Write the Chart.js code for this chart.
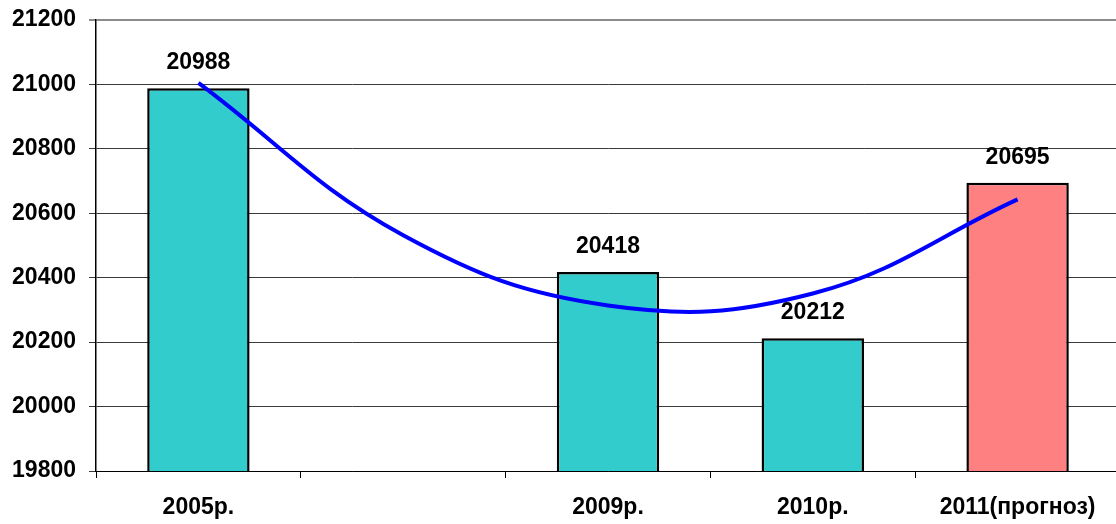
<!DOCTYPE html>
<html>
<head>
<meta charset="utf-8">
<script src="https://cdn.jsdelivr.net/npm/chart.js@4"></script>
<style>
  html, body { margin: 0; padding: 0; background: #fff; overflow: hidden; }
  #wrap { width: 1116px; height: 524px; overflow: hidden; }
</style>
</head>
<body>
<div id="wrap"><canvas id="c" width="1120" height="524"></canvas></div>
<script>
const categories = ['2005р.', '', '2009р.', '2010р.', '2011(прогноз)'];
const values = [20988, null, 20418, 20212, 20695];
const trendValues = [21005, 20532, 20314, 20351, 20643];
const barColors = ['#33CCCC', '#33CCCC', '#33CCCC', '#33CCCC', '#FF8080'];
const yMin = 19800, yMax = 21200, yStep = 200;

const FONT = "'Liberation Sans', Arial, sans-serif";

const valueLabels = {
  id: 'valueLabels',
  afterDatasetsDraw(chart) {
    const ctx = chart.ctx;
    const meta = chart.getDatasetMeta(0);
    ctx.save();
    ctx.font = "bold 23px " + FONT;
    ctx.fillStyle = '#000';
    ctx.textAlign = 'center';
    ctx.textBaseline = 'alphabetic';
    meta.data.forEach((el, i) => {
      const v = values[i];
      if (v == null) return;
      ctx.fillText(String(v), el.x, el.y - 19);
    });
    ctx.restore();
  }
};

new Chart(document.getElementById('c'), {
  data: {
    labels: categories,
    datasets: [
      {
        type: 'bar',
        data: values,
        backgroundColor: barColors,
        borderColor: '#000',
        borderWidth: 2.5,
        borderSkipped: false,
        barPercentage: 0.5,
        categoryPercentage: 1.0,
        order: 1
      },
      {
        type: 'line',
        data: trendValues,
        borderColor: '#0000FF',
        borderWidth: 4,
        pointRadius: 0,
        tension: 0.4,
        fill: false,
        order: 0
      }
    ]
  },
  options: {
    responsive: false,
    animation: false,
    devicePixelRatio: 1,
    layout: { padding: { top: 20, right: 0, left: 0, bottom: 0 } },
    plugins: { legend: { display: false }, tooltip: { enabled: false } },
    scales: {
      x: {
        offset: true,
        grid: {
          offset: true,
          drawOnChartArea: false,
          drawTicks: true,
          tickLength: 7,
          color: '#000',
          lineWidth: 1
        },
        border: { display: true, color: '#000', width: 1 },
        ticks: {
          color: '#000',
          font: { family: FONT, size: 23, weight: 'bold' },
          padding: 16,
          maxRotation: 0,
          autoSkip: false
        },
        afterFit(scale) {
          scale.height = 53;
          scale.paddingLeft = 0;
          scale.paddingRight = 0;
        }
      },
      y: {
        min: yMin,
        max: yMax,
        grid: {
          color: (c) => (c.tick && c.tick.value === yMax) ? '#8c8c8c' : '#3a3a3a',
          lineWidth: (c) => (c.tick && c.tick.value === yMax) ? 2 : 1,
          tickLength: 7,
          drawTicks: true
        },
        border: { display: true, color: '#000', width: 1.5 },
        ticks: {
          stepSize: yStep,
          color: '#000',
          font: { family: FONT, size: 23, weight: 'bold' },
          padding: 13,
          callback: (v) => String(v)
        },
        afterFit(scale) {
          scale.width = 96;
          scale.paddingTop = 0;
          scale.paddingBottom = 0;
        }
      }
    }
  },
  plugins: [valueLabels]
});
</script>
</body>
</html>
